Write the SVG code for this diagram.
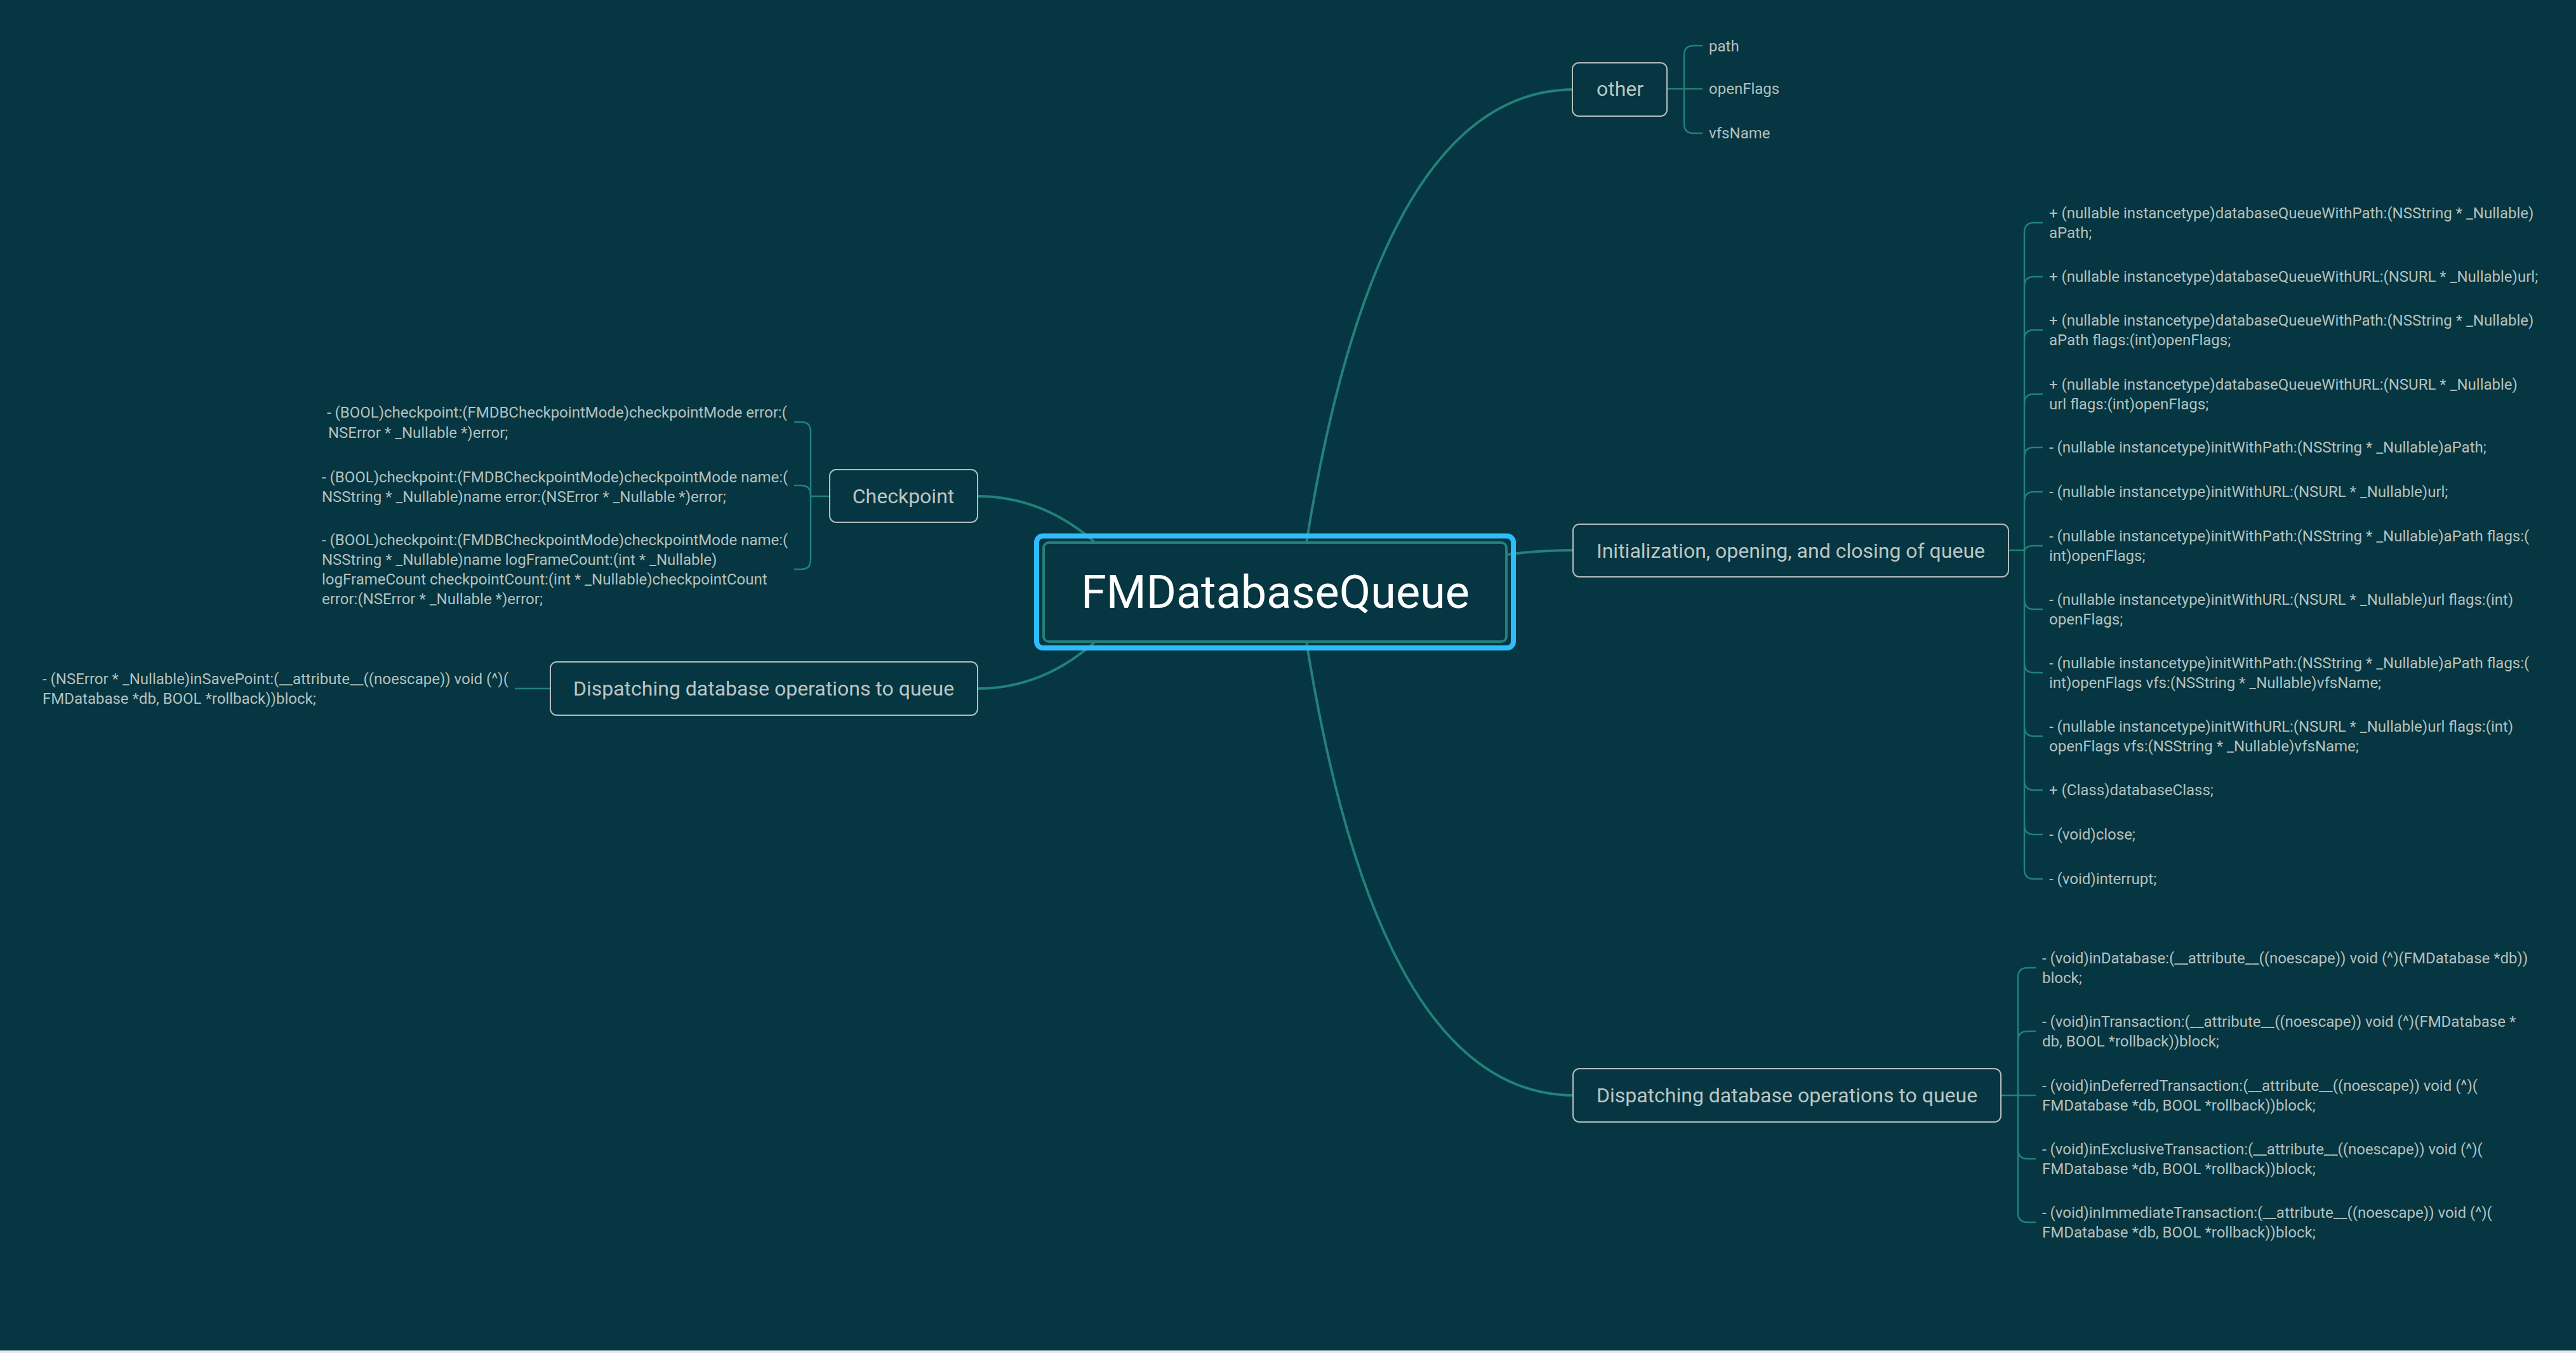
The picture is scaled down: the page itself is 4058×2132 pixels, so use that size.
<svg xmlns="http://www.w3.org/2000/svg" width="4058" height="2132" viewBox="0 0 4058 2132">
<style>
.bg{fill:#053641}
.main{fill:none;stroke:#23807b;stroke-width:4;stroke-linecap:round}
.sub{fill:none;stroke:#23807b;stroke-width:2.5}
.box{fill:#053641;stroke:#b4bebc;stroke-width:2}
.lbl{font-family:Roboto,"Liberation Sans",sans-serif;font-size:32px;fill:#bcc6c4;text-anchor:middle}
.item{font-family:Roboto,"Liberation Sans",sans-serif;font-size:24px;fill:#b6c0be}
.title{font-family:Roboto,"Liberation Sans",sans-serif;font-size:72px;fill:#ffffff;text-anchor:middle}
</style>
<rect class="bg" x="0" y="0" width="4058" height="2132"/>
<rect x="0" y="2128" width="4058" height="4" fill="#e6e9e9"/>

<g id="connectors">
  <path class="main" d="M2058,855 Q2172,141 2480,141"/>
  <path class="main" d="M2373,874 Q2425,867 2478,867"/>
  <path class="main" d="M2058,1011 Q2172,1726 2480,1726"/>
  <path class="main" d="M1540,782 Q1641,782 1723,853"/>
  <path class="main" d="M1540,1085 Q1641,1085 1723,1013"/>
  <path class="sub" d="M2626,140 L2682,140"/>
  <path class="sub" d="M2682,72 L2668,72 Q2653,72 2653,87 L2653,195 Q2653,210 2668,210 L2682,210"/>
  <path class="sub" d="M3164,867 L3189,867"/>
  <path class="sub" d="M3218,351 L3204,351 Q3189,351 3189,366 L3189,1370 Q3189,1385 3204,1385 L3218,1385"/>
  <path class="sub" d="M3189,451 Q3189,436 3204,436 L3218,436"/>
  <path class="sub" d="M3189,535 Q3189,520 3204,520 L3218,520"/>
  <path class="sub" d="M3189,636 Q3189,621 3204,621 L3218,621"/>
  <path class="sub" d="M3189,720 Q3189,705 3204,705 L3218,705"/>
  <path class="sub" d="M3189,790 Q3189,775 3204,775 L3218,775"/>
  <path class="sub" d="M3189,870 Q3189,860 3204,860 L3218,860"/>
  <path class="sub" d="M3189,945 Q3189,960 3204,960 L3218,960"/>
  <path class="sub" d="M3189,1045 Q3189,1060 3204,1060 L3218,1060"/>
  <path class="sub" d="M3189,1145 Q3189,1160 3204,1160 L3218,1160"/>
  <path class="sub" d="M3189,1230 Q3189,1245 3204,1245 L3218,1245"/>
  <path class="sub" d="M3189,1300 Q3189,1315 3204,1315 L3218,1315"/>
  <path class="sub" d="M3152,1726 L3207,1726"/>
  <path class="sub" d="M3207,1525 L3194,1525 Q3179,1525 3179,1540 L3179,1911 Q3179,1926 3194,1926 L3207,1926"/>
  <path class="sub" d="M3179,1640 Q3179,1625 3194,1625 L3207,1625"/>
  <path class="sub" d="M3179,1811 Q3179,1826 3194,1826 L3207,1826"/>
  <path class="sub" d="M1307,782 L1277,782"/>
  <path class="sub" d="M1251,665 L1262,665 Q1277,665 1277,680 L1277,882 Q1277,897 1262,897 L1251,897"/>
  <path class="sub" d="M1277,780 Q1277,765 1262,765 L1251,765"/>
  <path class="sub" d="M867,1085 L811,1085"/>
</g>

<g id="central">
  <rect x="1633" y="844.5" width="751" height="176.5" rx="10" fill="none" stroke="#2ebcfc" stroke-width="8"/>
  <rect x="1644" y="855" width="729" height="156" rx="8" fill="#053641" stroke="#23807b" stroke-width="4"/>
  <text class="title" x="2009" y="958">FMDatabaseQueue</text>
</g>

<g id="node-other">
  <rect class="box" x="2477" y="99" width="149" height="84" rx="10"/>
  <text class="lbl" x="2552" y="151">other</text>
  <text class="item" x="2692" y="81">path</text>
  <text class="item" x="2692" y="148">openFlags</text>
  <text class="item" x="2692" y="218">vfsName</text>
</g>

<g id="node-init">
  <rect class="box" x="2478" y="826" width="686" height="83" rx="10"/>
  <text class="lbl" x="2821" y="879">Initialization, opening, and closing of queue</text>
  <g class="item">
    <text x="3228" y="344">+ (nullable instancetype)databaseQueueWithPath:(NSString * _Nullable)</text>
    <text x="3228" y="375">aPath;</text>
    <text x="3228" y="444">+ (nullable instancetype)databaseQueueWithURL:(NSURL * _Nullable)url;</text>
    <text x="3228" y="513">+ (nullable instancetype)databaseQueueWithPath:(NSString * _Nullable)</text>
    <text x="3228" y="544">aPath flags:(int)openFlags;</text>
    <text x="3228" y="614">+ (nullable instancetype)databaseQueueWithURL:(NSURL * _Nullable)</text>
    <text x="3228" y="645">url flags:(int)openFlags;</text>
    <text x="3228" y="713">- (nullable instancetype)initWithPath:(NSString * _Nullable)aPath;</text>
    <text x="3228" y="783">- (nullable instancetype)initWithURL:(NSURL * _Nullable)url;</text>
    <text x="3228" y="853">- (nullable instancetype)initWithPath:(NSString * _Nullable)aPath flags:(</text>
    <text x="3228" y="884">int)openFlags;</text>
    <text x="3228" y="953">- (nullable instancetype)initWithURL:(NSURL * _Nullable)url flags:(int)</text>
    <text x="3228" y="984">openFlags;</text>
    <text x="3228" y="1053">- (nullable instancetype)initWithPath:(NSString * _Nullable)aPath flags:(</text>
    <text x="3228" y="1084">int)openFlags vfs:(NSString * _Nullable)vfsName;</text>
    <text x="3228" y="1153">- (nullable instancetype)initWithURL:(NSURL * _Nullable)url flags:(int)</text>
    <text x="3228" y="1184">openFlags vfs:(NSString * _Nullable)vfsName;</text>
    <text x="3228" y="1253">+ (Class)databaseClass;</text>
    <text x="3228" y="1323">- (void)close;</text>
    <text x="3228" y="1393">- (void)interrupt;</text>
  </g>
</g>

<g id="node-dispatch-right">
  <rect class="box" x="2478" y="1684" width="674" height="84" rx="10"/>
  <text class="lbl" x="2815" y="1737">Dispatching database operations to queue</text>
  <g class="item">
    <text x="3217" y="1518">- (void)inDatabase:(__attribute__((noescape)) void (^)(FMDatabase *db))</text>
    <text x="3217" y="1549">block;</text>
    <text x="3217" y="1618">- (void)inTransaction:(__attribute__((noescape)) void (^)(FMDatabase *</text>
    <text x="3217" y="1649">db, BOOL *rollback))block;</text>
    <text x="3217" y="1719">- (void)inDeferredTransaction:(__attribute__((noescape)) void (^)(</text>
    <text x="3217" y="1750">FMDatabase *db, BOOL *rollback))block;</text>
    <text x="3217" y="1819">- (void)inExclusiveTransaction:(__attribute__((noescape)) void (^)(</text>
    <text x="3217" y="1850">FMDatabase *db, BOOL *rollback))block;</text>
    <text x="3217" y="1919">- (void)inImmediateTransaction:(__attribute__((noescape)) void (^)(</text>
    <text x="3217" y="1950">FMDatabase *db, BOOL *rollback))block;</text>
  </g>
</g>

<g id="node-checkpoint">
  <rect class="box" x="1307" y="740" width="233" height="83" rx="10"/>
  <text class="lbl" x="1423" y="793">Checkpoint</text>
  <g class="item">
    <text x="515" y="658">- (BOOL)checkpoint:(FMDBCheckpointMode)checkpointMode error:(</text>
    <text x="517" y="690">NSError * _Nullable *)error;</text>
    <text x="507" y="760">- (BOOL)checkpoint:(FMDBCheckpointMode)checkpointMode name:(</text>
    <text x="507" y="791">NSString * _Nullable)name error:(NSError * _Nullable *)error;</text>
    <text x="507" y="859">- (BOOL)checkpoint:(FMDBCheckpointMode)checkpointMode name:(</text>
    <text x="507" y="890">NSString * _Nullable)name logFrameCount:(int * _Nullable)</text>
    <text x="507" y="921">logFrameCount checkpointCount:(int * _Nullable)checkpointCount</text>
    <text x="507" y="952">error:(NSError * _Nullable *)error;</text>
  </g>
</g>

<g id="node-dispatch-left">
  <rect class="box" x="867" y="1043" width="673" height="84" rx="10"/>
  <text class="lbl" x="1203" y="1096">Dispatching database operations to queue</text>
  <g class="item">
    <text x="67" y="1078">- (NSError * _Nullable)inSavePoint:(__attribute__((noescape)) void (^)(</text>
    <text x="67" y="1109">FMDatabase *db, BOOL *rollback))block;</text>
  </g>
</g>
</svg>
